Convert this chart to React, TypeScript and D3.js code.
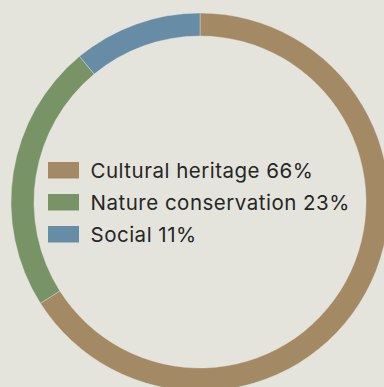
import React from "react";
import * as d3 from "d3";

const categories = ["Cultural heritage", "Nature conservation", "Social"];
const values = [66, 23, 11];
const colors = ["#a38a64", "#789467", "#668ca6"];

const W = 384;
const H = 387;

export default function App() {
  const cx = 200;
  const cy = 202;
  const outerR = 189;
  const innerR = 166;
  const pie = d3.pie<number>().sort(null).value((d) => d)(values);
  const arc = d3.arc<d3.PieArcDatum<number>>().innerRadius(innerR).outerRadius(outerR);
  const legendX = 48;
  const legendY = 162;
  const rowH = 32;
  return (
    <svg
      width={W}
      height={H}
      style={{ position: "absolute", left: 0, top: 0, display: "block" }}
    >
      <rect x={0} y={0} width={W} height={H} fill="#e5e4dc" />
      <g transform={`translate(${cx},${cy})`}>
        {pie.map((p, i) => (
          <path key={i} d={arc(p) || ""} fill={colors[i]} stroke="#e5e4dc" strokeWidth={0.4} />
        ))}
      </g>
      <g transform={`translate(${legendX},${legendY})`}>
        {categories.map((c, i) => (
          <g key={c} transform={`translate(0,${i * rowH})`}>
            <rect x={0} y={0} width={31} height={16.5} fill={colors[i]} />
            <text
              x={42.5}
              y={16.3}
              fontFamily="Inter, 'Liberation Sans', Arial, sans-serif"
              fontSize={20.5}
              letterSpacing={0.5}
              fill="#262626"
            >
              {`${c} ${values[i]}%`}
            </text>
          </g>
        ))}
      </g>
    </svg>
  );
}
